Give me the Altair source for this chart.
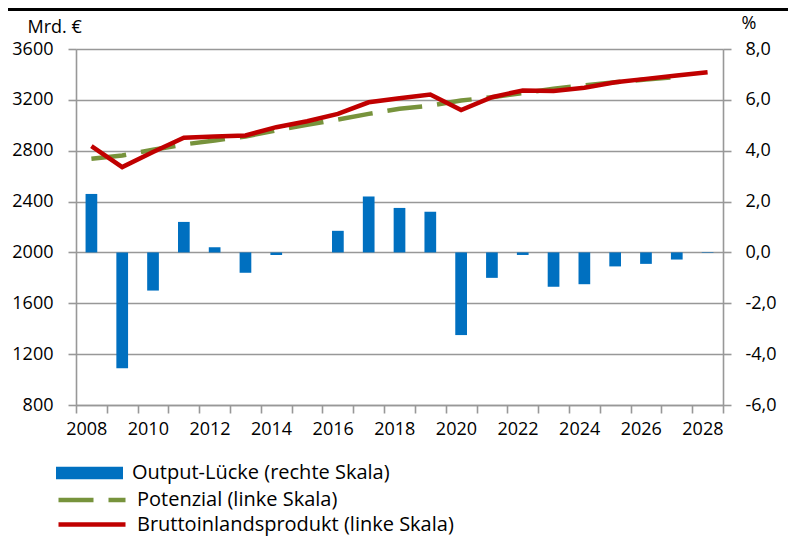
import altair as alt
import pandas as pd

years = list(range(2008, 2029))
output_gap = [2.3, -4.55, -1.5, 1.2, 0.2, -0.8, -0.1, 0.0, 0.85, 2.2, 1.75,
              1.6, -3.25, -1.0, -0.1, -1.35, -1.25, -0.55, -0.45, -0.28, -0.02]
gdp = [2836, 2671, 2790, 2902, 2912, 2920, 2985, 3032, 3090, 3181, 3213,
       3242, 3120, 3221, 3274, 3269, 3296, 3338, 3365, 3392, 3418]
potential_years = list(range(2008, 2028))
potential = [2737, 2763, 2808, 2849, 2881, 2912, 2959, 3004, 3045, 3090, 3130,
             3155, 3195, 3221, 3253, 3288, 3314, 3338, 3360, 3381]

label_gap = "Output-Lücke (rechte Skala)"
label_pot = "Potenzial (linke Skala)"
label_gdp = "Bruttoinlandsprodukt (linke Skala)"

df_gap = pd.DataFrame({"year": years, "value": output_gap, "series": label_gap})
df_gdp = pd.DataFrame({"year": years, "value": gdp, "series": label_gdp})
df_pot = pd.DataFrame({"year": potential_years, "value": potential, "series": label_pot})

FONT = "Open Sans"
BLUE = "#0070C0"
GREEN = "#77933C"
RED = "#C00000"
GRID = "#989898"

W, H = 647, 356
PAD = {"left": 68, "top": 41, "right": 65, "bottom": 132}
BAND = W / len(years)
SYM = 67  # legend symbol width in px
TOP = 49  # page y of the plot area's top

x_enc = alt.X(
    "year:O",
    scale=alt.Scale(type="band", paddingInner=0, paddingOuter=0),
    axis=alt.Axis(
        title=None, labelAngle=0, tickBand="extent", grid=False,
        labelExpr="toNumber(datum.value) % 2 == 0 ? datum.label : ''",
        labelFontSize=18, labelFont=FONT, labelColor="black", labelPadding=16,
        labelOffset=BAND / 2,
        tickSize=8, tickColor=GRID, tickWidth=1.6, domainColor=GRID, domainWidth=1.6,
        labelOverlap=False,
    ),
)
x_line = alt.X("year:O", bandPosition=0.5)

common_legend = dict(
    orient="none", title=None, labelFontSize=20, labelFont=FONT, labelColor="black",
    symbolSize=SYM * SYM, padding=0, labelOffset=9, labelLimit=600,
)

bars = alt.Chart(df_gap).mark_bar(width=alt.RelativeBandSize(0.38)).encode(
    x=x_enc,
    y=alt.Y(
        "value:Q",
        scale=alt.Scale(domain=[-6, 8], zero=False, nice=False),
        axis=alt.Axis(
            orient="right", values=list(range(-6, 9, 2)), grid=False,
            labelExpr="replace(replace(format(datum.value, '.1f'), '.', ','), '\u2212', '-')",
            labelFontSize=18, labelFont=FONT, labelColor="black", labelPadding=14,
            labelAlign="left", labelFlush=False, labelOverlap=False,
            tickSize=8, tickColor=GRID, tickWidth=1.6, domainColor=GRID, domainWidth=1.6,
            title="%", titleAngle=0, titleAlign="left", titleBaseline="alphabetic",
            titleX=18, titleY=-21, titleFont=FONT, titleFontSize=18,
            titleFontWeight="normal", titleColor="black",
        ),
    ),
    color=alt.Color(
        "series:N",
        scale=alt.Scale(domain=[label_gap], range=[BLUE]),
        legend=alt.Legend(
            legendX=-20, legendY=473 - TOP - SYM / 2,
            symbolType="M-1,-0.19L1,-0.19L1,0.19L-1,0.19Z",
            symbolStrokeWidth=0, symbolOpacity=1,
            **common_legend,
        ),
    ),
)

pot = alt.Chart(df_pot).mark_line(strokeDash=[35, 15], strokeWidth=4.5).encode(
    x=x_line,
    y=alt.Y(
        "value:Q",
        scale=alt.Scale(domain=[800, 3600], zero=False, nice=False),
        axis=alt.Axis(
            orient="left", values=list(range(800, 3601, 400)), format="d",
            grid=True, gridColor=GRID, gridWidth=1.6,
            labelFontSize=18, labelFont=FONT, labelColor="black", labelPadding=15,
            labelFlush=False, labelOverlap=False,
            tickSize=8, tickColor=GRID, tickWidth=1.6, domainColor=GRID, domainWidth=1.6,
            title="Mrd. €", titleAngle=0, titleAlign="left", titleBaseline="alphabetic",
            titleX=-49, titleY=-17, titleFont=FONT, titleFontSize=18,
            titleFontWeight="normal", titleColor="black",
        ),
    ),
    color=alt.Color(
        "series:N",
        scale=alt.Scale(domain=[label_pot], range=[GREEN]),
        legend=alt.Legend(
            legendX=-20, legendY=497.5 - TOP - SYM / 2,
            symbolType="stroke", symbolStrokeWidth=4.5, symbolDash=[35, 15],
            **common_legend,
        ),
    ),
)

gdp_line = alt.Chart(df_gdp).mark_line(strokeWidth=4.5).encode(
    x=x_line,
    y=alt.Y(
        "value:Q",
        scale=alt.Scale(domain=[800, 3600], zero=False, nice=False),
        axis=None,
    ),
    color=alt.Color(
        "series:N",
        scale=alt.Scale(domain=[label_gdp], range=[RED]),
        legend=alt.Legend(
            legendX=-20, legendY=522 - TOP - SYM / 2,
            symbolType="stroke", symbolStrokeWidth=4.5,
            **common_legend,
        ),
    ),
)

top_rule = alt.Chart(df_gap).mark_rule(color="black", strokeWidth=3).encode(
    x=alt.value(-PAD["left"]), x2=alt.value(W + PAD["right"]), y=alt.value(-39.5)
)

chart = alt.layer(pot, bars, gdp_line, top_rule).resolve_scale(
    y="independent", color="independent"
).properties(
    width=W, height=H, padding=PAD,
    autosize=alt.AutoSizeParams(type="none"),
).configure_view(stroke=None).configure(font=FONT)

chart.save("out.html", embed_options={"renderer": "svg", "actions": False})
